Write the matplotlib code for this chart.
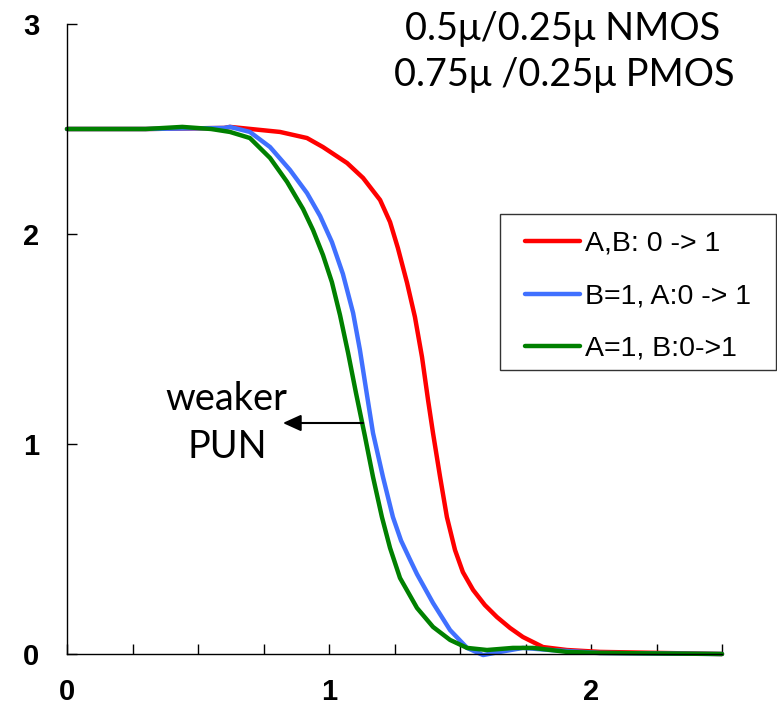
import matplotlib
matplotlib.use('Agg')
import matplotlib.pyplot as plt
from matplotlib.patches import Rectangle
import numpy as np

red_x = [0, 0.3, 0.6, 0.622, 0.813, 0.916, 0.977, 1.069, 1.130, 1.195, 1.233, 1.263, 1.298, 1.328,
         1.355, 1.378, 1.397, 1.424, 1.450, 1.481, 1.511, 1.550, 1.595, 1.641, 1.691, 1.740, 1.817,
         1.908, 2.034, 2.5]
red_y = [2.5, 2.5, 2.505, 2.51, 2.486, 2.457, 2.414, 2.338, 2.267, 2.162, 2.057, 1.933, 1.767, 1.605,
         1.414, 1.21, 1.052, 0.843, 0.652, 0.495, 0.39, 0.305, 0.233, 0.176, 0.124, 0.081, 0.033,
         0.019, 0.01, 0.0]

blue_x = [0, 0.3, 0.6, 0.622, 0.698, 0.775, 0.851, 0.916, 0.966, 1.011, 1.053, 1.092, 1.118, 1.145,
          1.168, 1.206, 1.244, 1.275, 1.309, 1.336, 1.397, 1.462, 1.527, 1.588, 1.653, 1.740, 1.844,
          2.034, 2.5]
blue_y = [2.5, 2.5, 2.505, 2.51, 2.486, 2.414, 2.305, 2.195, 2.086, 1.962, 1.810, 1.624, 1.448, 1.233,
          1.052, 0.843, 0.652, 0.54, 0.45, 0.38, 0.243, 0.114, 0.029, -0.005, 0.01, 0.029, 0.019,
          0.005, 0.0]

green_x = [0, 0.3, 0.44, 0.55, 0.622, 0.698, 0.775, 0.840, 0.901, 0.939, 0.977, 1.011, 1.042, 1.073,
           1.103, 1.137, 1.168, 1.202, 1.233, 1.271, 1.336, 1.397, 1.462, 1.527, 1.603, 1.702, 1.779,
           1.908, 2.034, 2.5]
green_y = [2.5, 2.5, 2.51, 2.5, 2.486, 2.457, 2.362, 2.248, 2.119, 2.019, 1.900, 1.771, 1.614, 1.433,
           1.243, 1.038, 0.843, 0.652, 0.505, 0.362, 0.219, 0.129, 0.067, 0.029, 0.019, 0.029, 0.029,
           0.01, 0.005, 0.0]

labels = ['A,B: 0 -> 1', 'B=1, A:0 -> 1', 'A=1, B:0->1']
colors = ['#FF0000', '#4070FF', '#008000']

x_ticks = np.arange(0, 2.51, 0.25)
x_tick_labels = ['0', '', '', '', '1', '', '', '', '2', '', '']
y_ticks = [0, 1, 2, 3]

W, H = 777, 716
fig = plt.figure(figsize=(W / 100, H / 100), dpi=100)
ax = fig.add_axes([67 / W, 1 - 654 / H, 655 / W, 630 / H])

for xs, ys, c, lab in zip([red_x, blue_x, green_x], [red_y, blue_y, green_y], colors, labels):
    ax.plot(xs, ys, color=c, lw=3.2, label=lab, clip_on=False,
            solid_capstyle='round', solid_joinstyle='round')

ax.set_xlim(0, 2.5)
ax.set_ylim(0, 3)
ax.spines['top'].set_visible(False)
ax.spines['right'].set_visible(False)
ax.spines['left'].set_linewidth(1.0)
ax.spines['bottom'].set_linewidth(1.0)

ax.set_xticks(x_ticks)
ax.set_xticklabels(x_tick_labels)
ax.set_yticks(y_ticks)
ax.tick_params(axis='both', direction='in', length=7.5, width=1.0)
ax.tick_params(axis='x', pad=17)
ax.tick_params(axis='y', pad=20)
for t in ax.get_xticklabels() + ax.get_yticklabels():
    t.set_fontfamily('Liberation Sans')
    t.set_fontweight('bold')
    t.set_fontsize(21)

txt_font = ['Lato', 'DejaVu Sans']
ax.text(1.89, 2.976, '0.5\u03bc/0.25\u03bc NMOS', ha='center', va='center', fontsize=27.3,
        family=txt_font, clip_on=False)
ax.text(1.897, 2.757, '0.75\u03bc /0.25\u03bc PMOS', ha='center', va='center', fontsize=27.3,
        family=txt_font, clip_on=False)
ax.text(0.607, 1.215, 'weaker', ha='center', va='center', fontsize=27.3, family=txt_font)
ax.text(0.611, 0.985, 'PUN', ha='center', va='center', fontsize=27.3, family=txt_font)

ax.annotate('', xy=(0.824, 1.10), xytext=(1.13, 1.10),
            arrowprops=dict(arrowstyle='-|>,head_length=0.55,head_width=0.25',
                            color='black', lw=1.5, mutation_scale=20, shrinkA=0, shrinkB=0))

# legend box drawn separately so the padding matches the original
fig.patches.append(Rectangle((500 / W, 1 - 370 / H), 276 / W, 156 / H, transform=fig.transFigure,
                             fill=False, edgecolor='#333333', linewidth=1.0))
ax.legend(loc='upper left', bbox_to_anchor=(525 / W, 1 - 231 / H),
          bbox_transform=fig.transFigure, frameon=False,
          prop={'family': 'Liberation Sans', 'size': 20.5},
          handlelength=1.93, handletextpad=0.18, labelspacing=0.93,
          borderpad=0, borderaxespad=0)

fig.savefig('out.png', dpi=100)
